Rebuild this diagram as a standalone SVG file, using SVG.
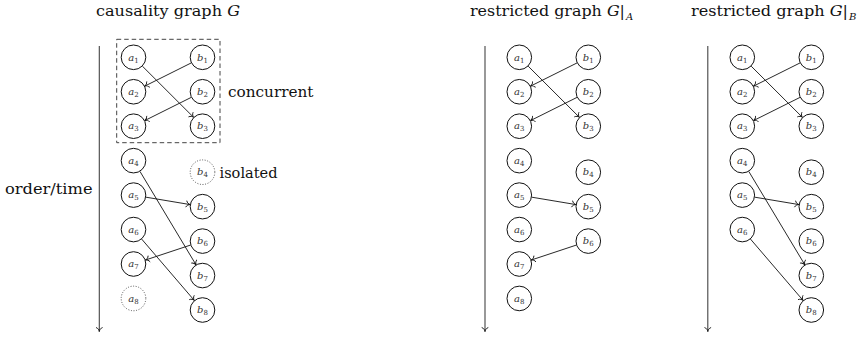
<svg xmlns="http://www.w3.org/2000/svg" width="867" height="339" viewBox="0 0 867 339">
<style>
text{font-family:'DejaVu Serif',serif;fill:#111}
.t{font-size:15px}
.lab{font-size:10px;font-style:italic;fill:#333;text-anchor:middle}
.sub{font-size:7px;font-style:normal}
circle{fill:#fff;stroke:#111;stroke-width:1}
circle.dot{stroke:#444;stroke-width:0.9;stroke-dasharray:1 1.6}
.e line{stroke:#111;stroke-width:0.9;marker-end:url(#to)}
.ax{stroke:#444;stroke-width:1.1;marker-end:url(#to)}
.box{fill:none;stroke:#444;stroke-width:1;stroke-dasharray:4.5 3}
</style>
<defs>
<marker id="to" markerUnits="userSpaceOnUse" markerWidth="10" markerHeight="10" refX="0" refY="0" viewBox="-5 -5 10 10" orient="auto" overflow="visible">
<path d="M-4,-3.3 C-3.3,-1.2 -1.6,-0.3 0,0 C-1.6,0.3 -3.3,1.2 -4,3.3" fill="none" stroke="#111" stroke-width="0.9"/>
</marker>
</defs>

<!-- titles and labels -->
<text class="t" x="96" y="16" textLength="144" lengthAdjust="spacingAndGlyphs">causality graph <tspan font-style="italic">G</tspan></text>
<text class="t" x="470" y="16" textLength="155" lengthAdjust="spacingAndGlyphs">restricted graph <tspan font-style="italic">G</tspan>|</text>
<text x="626" y="20" font-size="10" font-style="italic">A</text>
<text class="t" x="691" y="16" textLength="157" lengthAdjust="spacingAndGlyphs">restricted graph <tspan font-style="italic">G</tspan>|</text>
<text x="849" y="20" font-size="10" font-style="italic">B</text>
<text class="t" x="5" y="193.5" textLength="87.5" lengthAdjust="spacingAndGlyphs">order/time</text>
<text class="t" x="228" y="96.5" textLength="85.5" lengthAdjust="spacingAndGlyphs">concurrent</text>
<text class="t" x="219.5" y="177.5" textLength="58" lengthAdjust="spacingAndGlyphs">isolated</text>

<!-- panel 1: causality graph G -->
<g id="panelG" transform="translate(133.5,0)">
<line class="ax" x1="-34.2" y1="46" x2="-34.2" y2="331.5"/>
<rect class="box" x="-16.8" y="39.3" width="103.3" height="103.4"/>
<g id="G-edges" class="e">
<line x1="8.85" y1="66.13" x2="60.15" y2="117.37"/>
<line x1="57.82" y1="62.88" x2="11.18" y2="86.17"/>
<line x1="57.82" y1="97.33" x2="11.18" y2="120.62"/>
<line x1="6.44" y1="171.37" x2="62.56" y2="264.83"/>
<line x1="12.33" y1="197.16" x2="56.67" y2="204.59"/>
<line x1="57.14" y1="245.04" x2="11.86" y2="260.06"/>
<line x1="8.14" y1="239.04" x2="60.86" y2="300.51"/>
</g>
<g id="G-a1"><circle cx="0" cy="57.3" r="12.3"/><text class="lab" x="0" y="60.5">a<tspan class="sub" dy="2">1</tspan></text></g>
<g id="G-a2"><circle cx="0" cy="91.75" r="12.3"/><text class="lab" x="0" y="95">a<tspan class="sub" dy="2">2</tspan></text></g>
<g id="G-a3"><circle cx="0" cy="126.2" r="12.3"/><text class="lab" x="0" y="129.4">a<tspan class="sub" dy="2">3</tspan></text></g>
<g id="G-a4"><circle cx="0" cy="160.65" r="12.3"/><text class="lab" x="0" y="163.9">a<tspan class="sub" dy="2">4</tspan></text></g>
<g id="G-a5"><circle cx="0" cy="195.1" r="12.3"/><text class="lab" x="0" y="198.3">a<tspan class="sub" dy="2">5</tspan></text></g>
<g id="G-a6"><circle cx="0" cy="229.55" r="12.3"/><text class="lab" x="0" y="232.8">a<tspan class="sub" dy="2">6</tspan></text></g>
<g id="G-a7"><circle cx="0" cy="264" r="12.3"/><text class="lab" x="0" y="267.2">a<tspan class="sub" dy="2">7</tspan></text></g>
<g id="G-a8"><circle class="dot" cx="0" cy="298.45" r="12.3"/><text class="lab" x="0" y="301.7">a<tspan class="sub" dy="2">8</tspan></text></g>
<g id="G-b1"><circle cx="69" cy="57.3" r="12.3"/><text class="lab" x="69" y="60.5">b<tspan class="sub" dy="2">1</tspan></text></g>
<g id="G-b2"><circle cx="69" cy="91.75" r="12.3"/><text class="lab" x="69" y="95">b<tspan class="sub" dy="2">2</tspan></text></g>
<g id="G-b3"><circle cx="69" cy="126.2" r="12.3"/><text class="lab" x="69" y="129.4">b<tspan class="sub" dy="2">3</tspan></text></g>
<g id="G-b4"><circle class="dot" cx="69" cy="172.2" r="12.3"/><text class="lab" x="69" y="175.4">b<tspan class="sub" dy="2">4</tspan></text></g>
<g id="G-b5"><circle cx="69" cy="206.65" r="12.3"/><text class="lab" x="69" y="209.9">b<tspan class="sub" dy="2">5</tspan></text></g>
<g id="G-b6"><circle cx="69" cy="241.1" r="12.3"/><text class="lab" x="69" y="244.3">b<tspan class="sub" dy="2">6</tspan></text></g>
<g id="G-b7"><circle cx="69" cy="275.55" r="12.3"/><text class="lab" x="69" y="278.8">b<tspan class="sub" dy="2">7</tspan></text></g>
<g id="G-b8"><circle cx="69" cy="310" r="12.3"/><text class="lab" x="69" y="313.2">b<tspan class="sub" dy="2">8</tspan></text></g>
</g>

<!-- panel 2: restricted graph G|A -->
<g id="panelGA" transform="translate(519.3,0)">
<line class="ax" x1="-34.3" y1="46" x2="-34.3" y2="331.5"/>
<g id="GA-edges" class="e">
<line x1="8.85" y1="66.13" x2="60.15" y2="117.37"/>
<line x1="57.82" y1="62.88" x2="11.18" y2="86.17"/>
<line x1="57.82" y1="97.33" x2="11.18" y2="120.62"/>
<line x1="12.33" y1="197.16" x2="56.67" y2="204.59"/>
<line x1="57.14" y1="245.04" x2="11.86" y2="260.06"/>
</g>
<g id="GA-a1"><circle cx="0" cy="57.3" r="12.3"/><text class="lab" x="0" y="60.5">a<tspan class="sub" dy="2">1</tspan></text></g>
<g id="GA-a2"><circle cx="0" cy="91.75" r="12.3"/><text class="lab" x="0" y="95">a<tspan class="sub" dy="2">2</tspan></text></g>
<g id="GA-a3"><circle cx="0" cy="126.2" r="12.3"/><text class="lab" x="0" y="129.4">a<tspan class="sub" dy="2">3</tspan></text></g>
<g id="GA-a4"><circle cx="0" cy="160.65" r="12.3"/><text class="lab" x="0" y="163.9">a<tspan class="sub" dy="2">4</tspan></text></g>
<g id="GA-a5"><circle cx="0" cy="195.1" r="12.3"/><text class="lab" x="0" y="198.3">a<tspan class="sub" dy="2">5</tspan></text></g>
<g id="GA-a6"><circle cx="0" cy="229.55" r="12.3"/><text class="lab" x="0" y="232.8">a<tspan class="sub" dy="2">6</tspan></text></g>
<g id="GA-a7"><circle cx="0" cy="264" r="12.3"/><text class="lab" x="0" y="267.2">a<tspan class="sub" dy="2">7</tspan></text></g>
<g id="GA-a8"><circle cx="0" cy="298.45" r="12.3"/><text class="lab" x="0" y="301.7">a<tspan class="sub" dy="2">8</tspan></text></g>
<g id="GA-b1"><circle cx="69" cy="57.3" r="12.3"/><text class="lab" x="69" y="60.5">b<tspan class="sub" dy="2">1</tspan></text></g>
<g id="GA-b2"><circle cx="69" cy="91.75" r="12.3"/><text class="lab" x="69" y="95">b<tspan class="sub" dy="2">2</tspan></text></g>
<g id="GA-b3"><circle cx="69" cy="126.2" r="12.3"/><text class="lab" x="69" y="129.4">b<tspan class="sub" dy="2">3</tspan></text></g>
<g id="GA-b4"><circle cx="69" cy="172.2" r="12.3"/><text class="lab" x="69" y="175.4">b<tspan class="sub" dy="2">4</tspan></text></g>
<g id="GA-b5"><circle cx="69" cy="206.65" r="12.3"/><text class="lab" x="69" y="209.9">b<tspan class="sub" dy="2">5</tspan></text></g>
<g id="GA-b6"><circle cx="69" cy="241.1" r="12.3"/><text class="lab" x="69" y="244.3">b<tspan class="sub" dy="2">6</tspan></text></g>
</g>

<!-- panel 3: restricted graph G|B -->
<g id="panelGB" transform="translate(742.3,0)">
<line class="ax" x1="-34.5" y1="46" x2="-34.5" y2="331.5"/>
<g id="GB-edges" class="e">
<line x1="8.85" y1="66.13" x2="60.15" y2="117.37"/>
<line x1="57.82" y1="62.88" x2="11.18" y2="86.17"/>
<line x1="57.82" y1="97.33" x2="11.18" y2="120.62"/>
<line x1="6.44" y1="171.37" x2="62.56" y2="264.83"/>
<line x1="12.33" y1="197.16" x2="56.67" y2="204.59"/>
<line x1="8.14" y1="239.04" x2="60.86" y2="300.51"/>
</g>
<g id="GB-a1"><circle cx="0" cy="57.3" r="12.3"/><text class="lab" x="0" y="60.5">a<tspan class="sub" dy="2">1</tspan></text></g>
<g id="GB-a2"><circle cx="0" cy="91.75" r="12.3"/><text class="lab" x="0" y="95">a<tspan class="sub" dy="2">2</tspan></text></g>
<g id="GB-a3"><circle cx="0" cy="126.2" r="12.3"/><text class="lab" x="0" y="129.4">a<tspan class="sub" dy="2">3</tspan></text></g>
<g id="GB-a4"><circle cx="0" cy="160.65" r="12.3"/><text class="lab" x="0" y="163.9">a<tspan class="sub" dy="2">4</tspan></text></g>
<g id="GB-a5"><circle cx="0" cy="195.1" r="12.3"/><text class="lab" x="0" y="198.3">a<tspan class="sub" dy="2">5</tspan></text></g>
<g id="GB-a6"><circle cx="0" cy="229.55" r="12.3"/><text class="lab" x="0" y="232.8">a<tspan class="sub" dy="2">6</tspan></text></g>
<g id="GB-b1"><circle cx="69" cy="57.3" r="12.3"/><text class="lab" x="69" y="60.5">b<tspan class="sub" dy="2">1</tspan></text></g>
<g id="GB-b2"><circle cx="69" cy="91.75" r="12.3"/><text class="lab" x="69" y="95">b<tspan class="sub" dy="2">2</tspan></text></g>
<g id="GB-b3"><circle cx="69" cy="126.2" r="12.3"/><text class="lab" x="69" y="129.4">b<tspan class="sub" dy="2">3</tspan></text></g>
<g id="GB-b4"><circle cx="69" cy="172.2" r="12.3"/><text class="lab" x="69" y="175.4">b<tspan class="sub" dy="2">4</tspan></text></g>
<g id="GB-b5"><circle cx="69" cy="206.65" r="12.3"/><text class="lab" x="69" y="209.9">b<tspan class="sub" dy="2">5</tspan></text></g>
<g id="GB-b6"><circle cx="69" cy="241.1" r="12.3"/><text class="lab" x="69" y="244.3">b<tspan class="sub" dy="2">6</tspan></text></g>
<g id="GB-b7"><circle cx="69" cy="275.55" r="12.3"/><text class="lab" x="69" y="278.8">b<tspan class="sub" dy="2">7</tspan></text></g>
<g id="GB-b8"><circle cx="69" cy="310" r="12.3"/><text class="lab" x="69" y="313.2">b<tspan class="sub" dy="2">8</tspan></text></g>
</g>
</svg>
